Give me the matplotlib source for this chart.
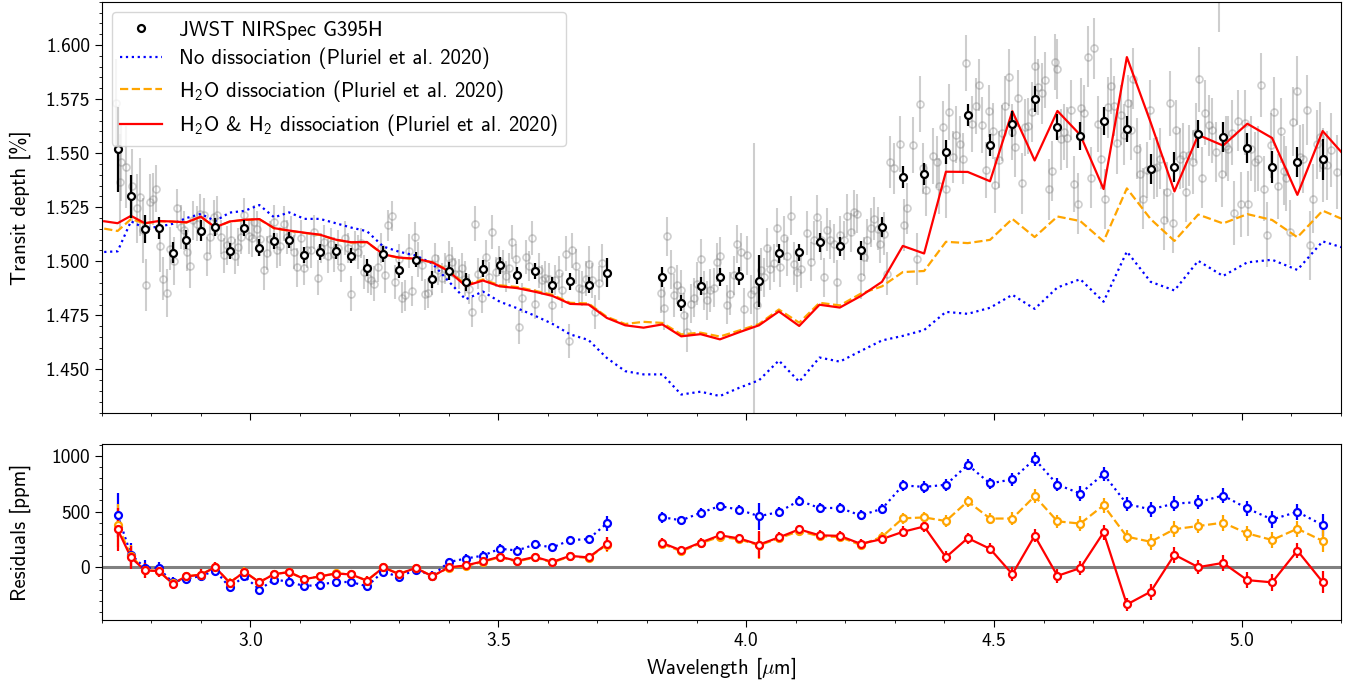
import numpy as np
import matplotlib
matplotlib.use("Agg")
import matplotlib.pyplot as plt
from matplotlib.lines import Line2D

plt.rcParams["font.family"] = "cmss10"
plt.rcParams["mathtext.fontset"] = "custom"
plt.rcParams["mathtext.rm"] = "cmss10"
plt.rcParams["mathtext.it"] = "cmmi10"
plt.rcParams["mathtext.bf"] = "cmss10"
plt.rcParams["axes.unicode_minus"] = False

# model grid (R ~ 100), in micron
model_wl = [2.705, 2.732, 2.759, 2.787, 2.815, 2.843, 2.871, 2.900, 2.929, 2.958,
            2.988, 3.018, 3.048, 3.078, 3.109, 3.140, 3.172, 3.203, 3.235, 3.268,
            3.300, 3.333, 3.367, 3.400, 3.434, 3.469, 3.503, 3.538, 3.574, 3.609,
            3.645, 3.682, 3.719, 3.756, 3.793, 3.831, 3.869, 3.908, 3.947, 3.986,
            4.026, 4.066, 4.107, 4.148, 4.189, 4.231, 4.274, 4.316, 4.359, 4.403,
            4.447, 4.492, 4.537, 4.582, 4.628, 4.674, 4.721, 4.768, 4.816, 4.864,
            4.912, 4.962, 5.011, 5.061, 5.112, 5.163, 5.215]

no_diss = [1.5043, 1.5046, 1.5185, 1.5152, 1.5160, 1.5173, 1.5200, 1.5219, 1.5186, 1.5225,
           1.5233, 1.5260, 1.5203, 1.5226, 1.5196, 1.5196, 1.5176, 1.5156, 1.5139, 1.5068,
           1.5044, 1.5027, 1.4990, 1.4907, 1.4824, 1.4860, 1.4813, 1.4783, 1.4748, 1.4711,
           1.4662, 1.4636, 1.4553, 1.4492, 1.4477, 1.4477, 1.4384, 1.4397, 1.4377, 1.4415,
           1.4450, 1.4541, 1.4443, 1.4555, 1.4536, 1.4585, 1.4634, 1.4655, 1.4682, 1.4766,
           1.4757, 1.4785, 1.4845, 1.4780, 1.4879, 1.4917, 1.4813, 1.5045, 1.4905, 1.4865,
           1.5002, 1.4932, 1.4995, 1.5007, 1.4960, 1.5092, 1.5055]

h2o_diss = [1.5151, 1.5140, 1.5195, 1.5175, 1.5185, 1.5183, 1.5179, 1.5205, 1.5156, 1.5183,
            1.5191, 1.5194, 1.5152, 1.5141, 1.5131, 1.5122, 1.5099, 1.5087, 1.5088, 1.5031,
            1.5016, 1.5011, 1.4995, 1.4958, 1.4891, 1.4916, 1.4889, 1.4881, 1.4864, 1.4845,
            1.4808, 1.4805, 1.4743, 1.4710, 1.4720, 1.4715, 1.4662, 1.4670, 1.4652, 1.4680,
            1.4710, 1.4777, 1.4716, 1.4808, 1.4796, 1.4850, 1.4884, 1.4950, 1.4955, 1.5090,
            1.5084, 1.5099, 1.5196, 1.5112, 1.5207, 1.5186, 1.5092, 1.5337, 1.5195, 1.5094,
            1.5216, 1.5175, 1.5218, 1.5191, 1.5111, 1.5234, 1.5183]

h2o_h2_diss = [1.5185, 1.5176, 1.5210, 1.5176, 1.5186, 1.5184, 1.5180, 1.5206, 1.5157, 1.5184,
               1.5192, 1.5195, 1.5153, 1.5142, 1.5132, 1.5123, 1.5100, 1.5088, 1.5089, 1.5032,
               1.5017, 1.5012, 1.4995, 1.4954, 1.4886, 1.4911, 1.4884, 1.4876, 1.4859, 1.4840,
               1.4803, 1.4800, 1.4738, 1.4704, 1.4693, 1.4708, 1.4653, 1.4663, 1.4639, 1.4672,
               1.4704, 1.4768, 1.4701, 1.4799, 1.4786, 1.4839, 1.4905, 1.5071, 1.5036, 1.5414,
               1.5413, 1.5370, 1.5694, 1.5466, 1.5695, 1.5584, 1.5334, 1.5944, 1.5642, 1.5323,
               1.5584, 1.5535, 1.5636, 1.5570, 1.5307, 1.5602, 1.5468]

# binned spectrum
bin_wl = [2.732, 2.759, 2.787, 2.815, 2.843, 2.871, 2.900, 2.929, 2.958, 2.988,
          3.018, 3.048, 3.078, 3.109, 3.140, 3.172, 3.203, 3.235, 3.268, 3.300,
          3.333, 3.367, 3.400, 3.434, 3.469, 3.503, 3.538, 3.574, 3.609, 3.645,
          3.682, 3.719, 3.831, 3.869, 3.908, 3.947, 3.986, 4.026, 4.066, 4.107,
          4.148, 4.189, 4.231, 4.274, 4.316, 4.359, 4.403, 4.447, 4.492, 4.537,
          4.582, 4.628, 4.674, 4.721, 4.768, 4.816, 4.864, 4.912, 4.962, 5.011,
          5.061, 5.112, 5.163]
bin_depth = [1.5517, 1.5300, 1.5150, 1.5154, 1.5040, 1.5100, 1.5142, 1.5159, 1.5048, 1.5153,
             1.5063, 1.5094, 1.5100, 1.5028, 1.5043, 1.5046, 1.5026, 1.4971, 1.5032, 1.4958,
             1.5008, 1.4917, 1.4955, 1.4904, 1.4966, 1.4981, 1.4935, 1.4954, 1.4890, 1.4907,
             1.4890, 1.4948, 1.4927, 1.4806, 1.4886, 1.4927, 1.4932, 1.4909, 1.5037, 1.5042,
             1.5087, 1.5069, 1.5051, 1.5159, 1.5390, 1.5403, 1.5506, 1.5676, 1.5537, 1.5634,
             1.5750, 1.5620, 1.5579, 1.5648, 1.5613, 1.5425, 1.5437, 1.5587, 1.5576, 1.5523,
             1.5437, 1.5458, 1.5472]
bin_err = [0.0195, 0.0100, 0.0065, 0.0052, 0.0050, 0.0043, 0.0048, 0.0043, 0.0037, 0.0038,
           0.0040, 0.0037, 0.0037, 0.0037, 0.0035, 0.0035, 0.0035, 0.0040, 0.0037, 0.0037,
           0.0035, 0.0040, 0.0040, 0.0040, 0.0040, 0.0040, 0.0038, 0.0038, 0.0035, 0.0038,
           0.0038, 0.0065, 0.0048, 0.0036, 0.0040, 0.0040, 0.0040, 0.0120, 0.0045, 0.0040,
           0.0045, 0.0045, 0.0045, 0.0045, 0.0050, 0.0050, 0.0055, 0.0050, 0.0050, 0.0060,
           0.0060, 0.0060, 0.0065, 0.0065, 0.0060, 0.0070, 0.0070, 0.0065, 0.0070, 0.0070,
           0.0075, 0.0070, 0.0095]

# native resolution spectrum (grey)
gray_wl = [2.729, 2.736, 2.738, 2.748, 2.762, 2.771, 2.777, 2.783, 2.790, 2.797,
           2.804, 2.810, 2.817, 2.824, 2.831, 2.837, 2.845, 2.852, 2.859, 2.865,
           2.872, 2.878, 2.884, 2.893, 2.899, 2.906, 2.913, 2.919, 2.926, 2.933,
           2.940, 2.946, 2.953, 2.961, 2.968, 2.974, 2.981, 2.988, 2.997, 3.003,
           3.008, 3.013, 3.020, 3.027, 3.033, 3.040, 3.047, 3.054, 3.060, 3.067,
           3.074, 3.081, 3.087, 3.094, 3.101, 3.108, 3.114,
           3.122, 3.129, 3.136, 3.143, 3.149, 3.156, 3.163, 3.168, 3.176, 3.183,
           3.190, 3.196, 3.203, 3.210, 3.217, 3.223, 3.230, 3.237, 3.244, 3.250,
           3.257, 3.264, 3.272, 3.278, 3.285, 3.292, 3.299, 3.305, 3.312, 3.319,
           3.325, 3.332, 3.339, 3.346, 3.353, 3.359, 3.366, 3.373, 3.379, 3.386,
           3.393, 3.400, 3.406, 3.413, 3.420, 3.426, 3.433, 3.440, 3.447, 3.453,
           3.460, 3.468, 3.475, 3.482, 3.488, 3.495, 3.502, 3.509, 3.515, 3.521,
           3.527, 3.535, 3.541, 3.548, 3.555, 3.562, 3.568, 3.575, 3.582, 3.589,
           3.595, 3.602, 3.609, 3.615, 3.622, 3.629, 3.636, 3.642, 3.649, 3.656,
           3.662, 3.669, 3.676, 3.683, 3.689, 3.696, 3.703, 3.710,
           3.828, 3.834, 3.841, 3.848, 3.854, 3.861, 3.868, 3.874, 3.881, 3.888,
           3.895, 3.901, 3.908, 3.915, 3.922, 3.928, 3.935, 3.942, 3.948, 3.962,
           3.968, 3.975, 3.982, 3.989, 3.995, 4.002, 4.009, 4.016, 4.022, 4.029,
           4.036, 4.043, 4.049, 4.056, 4.063, 4.069, 4.076, 4.083, 4.090, 4.096,
           4.103, 4.110, 4.123, 4.130, 4.137, 4.143, 4.150, 4.157, 4.164, 4.170,
           4.177, 4.184, 4.190, 4.197, 4.204, 4.211, 4.217, 4.224, 4.231, 4.237,
           4.244, 4.251, 4.258, 4.265, 4.271, 4.278, 4.285,
           4.291, 4.298, 4.310, 4.318, 4.325, 4.336, 4.345, 4.350, 4.357, 4.363,
           4.377, 4.384, 4.390, 4.397, 4.404, 4.410, 4.417, 4.424, 4.431, 4.437,
           4.443, 4.456, 4.463, 4.470, 4.476, 4.483, 4.490, 4.497, 4.503, 4.510,
           4.517, 4.523, 4.530, 4.537, 4.543, 4.549, 4.556, 4.562, 4.569, 4.576,
           4.583, 4.589, 4.596, 4.603, 4.610, 4.616, 4.623, 4.628, 4.635, 4.642,
           4.648, 4.655, 4.662, 4.669, 4.675, 4.682, 4.689, 4.696, 4.702, 4.709,
           4.716, 4.723, 4.729, 4.736, 4.743, 4.749, 4.756, 4.763, 4.770, 4.776,
           4.781, 4.788, 4.794, 4.801, 4.808, 4.815, 4.822, 4.828, 4.835, 4.842,
           4.848, 4.855, 4.862, 4.868, 4.875, 4.882, 4.887, 4.894, 4.901, 4.908,
           4.913, 4.920, 4.926, 4.933, 4.940, 4.947, 4.953, 4.960, 4.967, 4.973,
           4.980, 4.985, 4.992, 4.999, 5.006, 5.012, 5.019, 5.026, 5.032, 5.038,
           5.045, 5.051, 5.058, 5.065, 5.072, 5.078, 5.085, 5.090, 5.097, 5.104,
           5.111, 5.117, 5.124, 5.131, 5.137, 5.144, 5.151, 5.158, 5.164, 5.171,
           5.179, 5.191]
gray_depth = [1.5733, 1.5367, 1.5459, 1.5436, 1.5347, 1.5244, 1.5298, 1.5143, 1.4889, 1.5274,
              1.5290, 1.5336, 1.5071, 1.4920, 1.4853, 1.5059, 1.5001, 1.5244, 1.5158, 1.5143,
              1.5043, 1.4978, 1.5189, 1.5174, 1.5220, 1.5213, 1.5023, 1.5112, 1.5205, 1.5213,
              1.5112, 1.5027, 1.5074, 1.5097, 1.5023, 1.5066, 1.5112, 1.5213, 1.5115, 1.5109,
              1.5182, 1.5151, 1.5105, 1.4958, 1.5038, 1.5105, 1.5182, 1.5051, 1.5069, 1.5174,
              1.5112, 1.5128, 1.5043, 1.4973, 1.5109, 1.4970, 1.5051,
              1.5051, 1.5135, 1.4924, 1.5063, 1.5089, 1.5024, 1.5082, 1.5032, 1.5063, 1.4973,
              1.5108, 1.5063, 1.4850, 1.5069, 1.5043, 1.5084, 1.4950, 1.4924, 1.4915, 1.4896,
              1.4973, 1.5063, 1.4935, 1.5166, 1.5208, 1.4904, 1.5012, 1.4832, 1.4842, 1.5047,
              1.4861, 1.5112, 1.5008, 1.4981, 1.4847, 1.4853, 1.4924, 1.5016, 1.4958, 1.4922,
              1.4966, 1.5015, 1.4997, 1.4943, 1.4940, 1.4970, 1.4920, 1.4873, 1.4765, 1.5174,
              1.4943, 1.4832, 1.5020, 1.4927, 1.5135, 1.4950, 1.5000, 1.4970, 1.4930, 1.4970,
              1.5089, 1.5009, 1.4696, 1.4830, 1.5020, 1.4977, 1.5108, 1.4804, 1.4958, 1.4912,
              1.4922, 1.4920, 1.4799, 1.4912, 1.4946, 1.4865, 1.5035, 1.4631, 1.5051, 1.4977,
              1.4878, 1.4873, 1.4920, 1.4989, 1.4912, 1.4765, 1.4899, 1.4992,
              1.4853, 1.4783, 1.5116, 1.4961, 1.4842, 1.4892, 1.4869, 1.4753, 1.4672, 1.4804,
              1.4831, 1.4896, 1.5012, 1.4865, 1.4819, 1.4865, 1.4878, 1.4995, 1.5023, 1.4798,
              1.4850, 1.4935, 1.5080, 1.5043, 1.4778, 1.5027, 1.4847, 1.4869, 1.4796, 1.4961,
              1.4927, 1.5063, 1.4966, 1.4992, 1.5154, 1.4973, 1.5108, 1.5023, 1.5210, 1.4989,
              1.4950, 1.4966, 1.5131, 1.4997, 1.5097, 1.5205, 1.5097, 1.4927, 1.5146, 1.5100,
              1.5082, 1.4904, 1.5120, 1.5097, 1.5210, 1.5135, 1.5228, 1.5220, 1.4927, 1.5020,
              1.5097, 1.5156, 1.5197, 1.5151, 1.5082, 1.5128, 1.4943,
              1.5459, 1.5429, 1.5541, 1.5166, 1.5244, 1.5537, 1.5012, 1.5727, 1.5429, 1.5329,
              1.5486, 1.5459, 1.5347, 1.5622, 1.5332, 1.5691, 1.5482, 1.5586, 1.5541, 1.5475,
              1.5918, 1.5634, 1.5717, 1.5814, 1.5629, 1.5421, 1.5694, 1.5603, 1.5352, 1.5470,
              1.5592, 1.5717, 1.5850, 1.5598, 1.5529, 1.5753, 1.5360, 1.5619, 1.5625, 1.5691,
              1.5903, 1.5804, 1.5776, 1.5838, 1.5333, 1.5418, 1.5920, 1.5889, 1.5563, 1.5598,
              1.5572, 1.5699, 1.5359, 1.5267, 1.5707, 1.5686, 1.5946, 1.5387, 1.5984, 1.5634,
              1.5475, 1.5287, 1.5711, 1.5810, 1.5717, 1.5545, 1.5676, 1.5586, 1.5730, 1.5606,
              1.5845, 1.5521, 1.5402, 1.5290, 1.5421, 1.5699, 1.5429, 1.5436, 1.5475, 1.5193,
              1.5320, 1.5730, 1.5177, 1.5606, 1.5475, 1.5490, 1.5320, 1.5490, 1.5459, 1.5594,
              1.5841, 1.5387, 1.5686, 1.5629, 1.5606, 1.5506, 1.6300, 1.5402, 1.5532, 1.5521,
              1.5594, 1.5223, 1.5650, 1.5264, 1.5640, 1.5267, 1.5521, 1.5459, 1.5475, 1.5815,
              1.5336, 1.5123, 1.5537, 1.5691, 1.5347, 1.5603, 1.5418, 1.5383, 1.5135, 1.5645,
              1.5788, 1.5480, 1.5475, 1.5699, 1.5074, 1.5290, 1.5541, 1.5575, 1.5444, 1.5444,
              1.5514, 1.5412]
gray_err = [0.020, 0.022, 0.018, 0.019, 0.017, 0.016, 0.018, 0.015, 0.012, 0.013,
            0.012, 0.011, 0.012, 0.010, 0.011, 0.010, 0.011, 0.009, 0.010, 0.009,
            0.009, 0.010, 0.009, 0.008, 0.009, 0.008, 0.009, 0.008, 0.008, 0.009,
            0.008, 0.008, 0.009, 0.008, 0.008, 0.009, 0.008, 0.008, 0.008, 0.009,
            0.008, 0.008, 0.008, 0.009, 0.008, 0.008, 0.008, 0.008, 0.009, 0.008,
            0.008, 0.008, 0.008, 0.009, 0.008, 0.008, 0.008,
            0.008, 0.008, 0.008, 0.007, 0.008, 0.008, 0.007, 0.008, 0.008, 0.007,
            0.008, 0.007, 0.008, 0.007, 0.008, 0.007, 0.008, 0.007, 0.007, 0.008,
            0.007, 0.007, 0.008, 0.007, 0.007, 0.008, 0.007, 0.007, 0.007, 0.008,
            0.007, 0.007, 0.008, 0.007, 0.007, 0.007, 0.008, 0.007, 0.007, 0.007,
            0.007, 0.008, 0.007, 0.007, 0.007, 0.007, 0.008, 0.007, 0.007, 0.008,
            0.007, 0.007, 0.008, 0.007, 0.008, 0.007, 0.007, 0.008, 0.007, 0.007,
            0.008, 0.007, 0.008, 0.007, 0.008, 0.007, 0.008, 0.007, 0.008, 0.007,
            0.008, 0.007, 0.008, 0.007, 0.008, 0.008, 0.008, 0.008, 0.008, 0.008,
            0.008, 0.008, 0.008, 0.008, 0.008, 0.008, 0.008, 0.009,
            0.009, 0.010, 0.009, 0.009, 0.010, 0.009, 0.009, 0.010, 0.009, 0.009,
            0.009, 0.010, 0.009, 0.009, 0.009, 0.010, 0.009, 0.009, 0.009, 0.009,
            0.010, 0.009, 0.009, 0.009, 0.010, 0.009, 0.009, 0.068, 0.009, 0.010,
            0.009, 0.009, 0.010, 0.009, 0.009, 0.009, 0.010, 0.009, 0.009, 0.010,
            0.009, 0.009, 0.010, 0.009, 0.009, 0.010, 0.009, 0.009, 0.010, 0.009,
            0.009, 0.010, 0.009, 0.009, 0.010, 0.009, 0.010, 0.009, 0.010, 0.009,
            0.010, 0.009, 0.010, 0.010, 0.009, 0.010, 0.010,
            0.012, 0.012, 0.013, 0.012, 0.012, 0.013, 0.012, 0.013, 0.012, 0.012,
            0.013, 0.012, 0.013, 0.012, 0.013, 0.013, 0.012, 0.013, 0.013, 0.012,
            0.013, 0.013, 0.013, 0.012, 0.013, 0.013, 0.012, 0.013, 0.013, 0.013,
            0.013, 0.014, 0.013, 0.013, 0.014, 0.013, 0.014, 0.013, 0.013, 0.014,
            0.014, 0.013, 0.014, 0.013, 0.014, 0.014, 0.013, 0.014, 0.014, 0.013,
            0.014, 0.014, 0.013, 0.014, 0.014, 0.013, 0.014, 0.014, 0.014, 0.013,
            0.014, 0.014, 0.014, 0.013, 0.014, 0.014, 0.014, 0.014, 0.013, 0.014,
            0.014, 0.014, 0.014, 0.014, 0.013, 0.014, 0.014, 0.014, 0.014, 0.014,
            0.014, 0.015, 0.014, 0.014, 0.014, 0.015, 0.014, 0.014, 0.015, 0.014,
            0.015, 0.014, 0.015, 0.014, 0.015, 0.014, 0.024, 0.015, 0.014, 0.015,
            0.015, 0.015, 0.014, 0.015, 0.015, 0.015, 0.015, 0.014, 0.015, 0.015,
            0.015, 0.015, 0.015, 0.016, 0.015, 0.015, 0.016, 0.015, 0.015, 0.016,
            0.016, 0.015, 0.016, 0.016, 0.016, 0.016, 0.016, 0.016, 0.017, 0.016,
            0.017, 0.017]

models = [
    (no_diss, "blue", ":", "No dissociation (Pluriel et al. 2020)"),
    (h2o_diss, "orange", "--", "H$_2$O dissociation (Pluriel et al. 2020)"),
    (h2o_h2_diss, "red", "-", "H$_2$O & H$_2$ dissociation (Pluriel et al. 2020)"),
]

bin_wl = np.array(bin_wl)
bin_depth = np.array(bin_depth)
bin_err = np.array(bin_err)

fig = plt.figure(figsize=(13.51, 6.87), dpi=100)
ax = fig.add_axes([0.0753, 0.3993, 0.9173, 0.5982])
axr = fig.add_axes([0.0753, 0.0975, 0.9173, 0.2562], sharex=ax)

# top panel
ax.errorbar(gray_wl, gray_depth, yerr=gray_err, fmt="o", color="gray", mfc="none",
            ms=5, mew=1.2, elinewidth=1.5, alpha=0.38, zorder=1)
for model, c, ls, lab in models:
    ax.plot(model_wl, model, color=c, ls=ls, lw=1.6, zorder=2)
ax.errorbar(bin_wl, bin_depth, yerr=bin_err, fmt="o", color="black", mfc="white",
            ms=5, mew=1.6, elinewidth=1.6, zorder=3)

handles = [Line2D([], [], marker="o", color="black", mfc="white", ls="none", ms=5, mew=1.6)]
handles += [Line2D([], [], color=c, ls=ls, lw=1.6) for _, c, ls, _ in models]
labels = ["JWST NIRSpec G395H"] + [m[3] for m in models]
ax.legend(handles, labels, loc="upper left", fontsize=15, framealpha=0.8,
          labelspacing=0.4)

ax.set_xlim(2.70, 5.20)
ax.set_ylim(1.43, 1.62)
ax.set_yticks([1.45, 1.475, 1.50, 1.525, 1.55, 1.575, 1.60])
ax.yaxis.set_major_formatter(plt.FormatStrFormatter("%.3f"))
ax.set_ylabel("Transit depth [%]", fontsize=15)
ax.tick_params(labelbottom=False)

# residual panel
gap = np.where(np.diff(bin_wl) > 0.08)[0] + 1
axr.axhline(0, color="gray", lw=2.2, zorder=0)
for model, c, ls, lab in models:
    resid = (bin_depth - np.interp(bin_wl, model_wl, model)) * 1e4
    for wl_seg, r_seg in zip(np.split(bin_wl, gap), np.split(resid, gap)):
        axr.plot(wl_seg, r_seg, color=c, ls=ls, lw=1.6)
    axr.errorbar(bin_wl, resid, yerr=bin_err * 1e4, fmt="o", color=c, mfc="white",
                 ms=5, mew=1.6, elinewidth=1.6)

axr.set_ylim(-470, 1105)
axr.set_yticks([0, 500, 1000])
axr.set_ylabel("Residuals [ppm]", fontsize=15)
axr.set_xlabel("Wavelength [$\\mu$m]", fontsize=15)

for a in (ax, axr):
    a.minorticks_on()
    a.tick_params(which="major", direction="out", length=5, labelsize=14)
    a.tick_params(which="minor", direction="out", length=2.5)
ax.yaxis.set_minor_locator(plt.MultipleLocator(0.005))
axr.yaxis.set_minor_locator(plt.MultipleLocator(100))
axr.xaxis.set_minor_locator(plt.MultipleLocator(0.1))
ax.yaxis.set_label_coords(-0.057, 0.5)
axr.yaxis.set_label_coords(-0.057, 0.5)

fig.savefig("out.png", dpi=100)
